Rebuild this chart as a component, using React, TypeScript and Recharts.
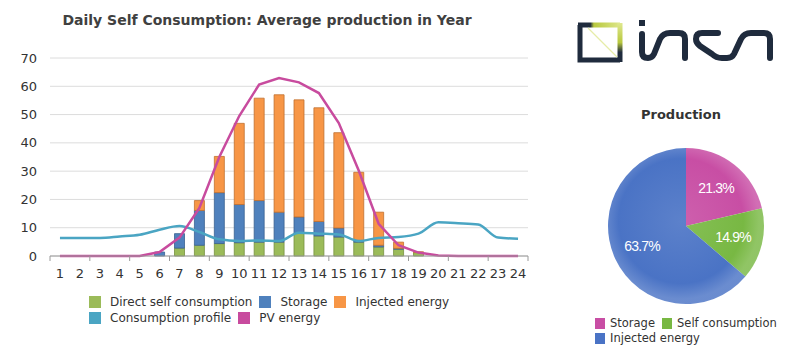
import { ComposedChart, Bar, Line, XAxis, YAxis, CartesianGrid, PieChart, Pie, Cell } from 'recharts';

const hours = [1, 2, 3, 4, 5, 6, 7, 8, 9, 10, 11, 12, 13, 14, 15, 16, 17, 18, 19, 20, 21, 22, 23, 24];
const directSelf = [0, 0, 0, 0, 0, 0, 2.8, 3.8, 4.4, 4.7, 4.9, 4.9, 8.1, 7.1, 6.7, 4.9, 3.2, 2.4, 1.2, 0, 0, 0, 0, 0];
const storage = [0, 0, 0, 0, 0, 1.4, 5.1, 12.3, 18.0, 13.5, 14.7, 10.6, 5.7, 5.1, 3.2, 0.6, 0.6, 0.3, 0, 0, 0, 0, 0, 0];
const injected = [0, 0, 0, 0, 0, 0, 0, 3.5, 12.8, 28.7, 36.2, 41.5, 41.4, 40.2, 33.7, 24.1, 11.7, 2.2, 0.3, 0, 0, 0, 0, 0];
const consumption = [6.4, 6.4, 6.4, 6.9, 7.5, 9.3, 10.6, 8.5, 5.9, 5.3, 5.5, 5.3, 8.2, 7.9, 7.6, 5.3, 6.4, 6.7, 7.9, 11.9, 11.6, 11.1, 6.5, 6.1];
const pvEnergy = [0, 0, 0, 0, 0, 1.4, 6.5, 17, 35, 49.5, 60.6, 62.9, 61.4, 57.6, 47, 30.2, 11.4, 3.8, 1.2, 0.2, 0, 0, 0, 0];
const yTicks = [0, 10, 20, 30, 40, 50, 60, 70];

const seriesNames = ['Direct self consumption', 'Storage', 'Injected energy', 'Consumption profile', 'PV energy'];
const seriesColors = ['#9bbb59', '#4f81bd', '#f79646', '#4aa5c3', '#c84b9e'];

const pieNames = ['Storage', 'Self consumption', 'Injected energy'];
const pieValues = [21.3, 14.9, 63.7];
const pieColors = ['#c84ea4', '#78b843', '#4a73c5'];

const FONT = '"DejaVu Sans", Verdana, sans-serif';

const rows = hours.map((h, i) => ({
  hour: h,
  direct: directSelf[i],
  storage: storage[i],
  injected: injected[i],
  consumption: consumption[i],
  pv: pvEnergy[i],
}));
// tick marks sit between the hours, like the original
const hourEdges = [0.5, ...hours.map((h) => h + 0.5)];

const pieData = pieNames.map((name, i) => ({ name, value: pieValues[i] }));

function LegendBox({
  names,
  colors,
  box,
  gap,
  style,
}: {
  names: string[];
  colors: string[];
  box: [number, number];
  gap: number;
  style: React.CSSProperties;
}) {
  return (
    <div
      style={{
        position: 'absolute',
        display: 'flex',
        flexWrap: 'wrap',
        fontFamily: FONT,
        color: '#333',
        ...style,
      }}
    >
      {names.map((n, i) => (
        <div key={n} style={{ display: 'flex', alignItems: 'center', marginRight: 7 }}>
          <span style={{ width: box[0], height: box[1], background: colors[i], marginRight: gap, display: 'inline-block' }} />
          <span>{n}</span>
        </div>
      ))}
    </div>
  );
}

const RAD = Math.PI / 180;
function pieLabel(props: any) {
  const { cx, cy, midAngle, outerRadius, value } = props;
  const r = outerRadius * 0.62;
  const x = cx + r * Math.cos(-midAngle * RAD);
  const y = cy + r * Math.sin(-midAngle * RAD);
  return (
    <text
      x={x}
      y={y}
      fill="#fff"
      textAnchor="middle"
      dominantBaseline="central"
      fontFamily='"Liberation Sans", Arial, sans-serif'
      fontSize={14}
      letterSpacing={-0.8}
    >
      {value.toFixed(1)}%
    </text>
  );
}

export default function App() {
  const tickStyle = { fontSize: 13, fill: '#333', fontFamily: FONT };
  return (
    <div style={{ position: 'absolute', left: 0, top: 0, width: 801, height: 357, background: '#fff', overflow: 'hidden' }}>
      <div
        style={{
          position: 'absolute',
          left: 0,
          width: 534,
          top: 12,
          textAlign: 'center',
          fontFamily: FONT,
          fontWeight: 'bold',
          fontSize: 14,
          color: '#404040',
        }}
      >
        Daily Self Consumption: Average production in Year
      </div>

      <div style={{ position: 'absolute', left: 0, top: 0 }}>
        <ComposedChart width={545} height={290} data={rows} margin={{ top: 58, right: 17, bottom: 4, left: 0 }}>
          <CartesianGrid vertical={false} stroke="#dcdcdc" xAxisId="cat" />
          <XAxis
            xAxisId="cat"
            dataKey="hour"
            axisLine={false}
            tickLine={false}
            interval={0}
            tick={tickStyle}
            tickSize={0}
            tickMargin={7}
            height={24}
          />
          <XAxis
            xAxisId="a"
            type="number"
            dataKey="hour"
            domain={[0.5, 24.5]}
            ticks={hourEdges}
            allowDataOverflow
            tick={() => <g />}
            tickSize={5}
            height={6}
            stroke="#9a9a9a"
          />
          <YAxis domain={[0, 70]} ticks={yTicks} axisLine={false} tickLine={false} width={50} tickMargin={7} tick={tickStyle} />
          <Bar xAxisId="cat" dataKey="direct" stackId="a" barSize={10} fill={seriesColors[0]} stroke="#76903f" strokeWidth={0.8} isAnimationActive={false} />
          <Bar xAxisId="cat" dataKey="storage" stackId="a" barSize={10} fill={seriesColors[1]} stroke="#3a6190" strokeWidth={0.8} isAnimationActive={false} />
          <Bar xAxisId="cat" dataKey="injected" stackId="a" barSize={10} fill={seriesColors[2]} stroke="#c0702f" strokeWidth={0.8} isAnimationActive={false} />
          <Line xAxisId="cat" type="monotone" dataKey="consumption" stroke={seriesColors[3]} strokeWidth={2.5} dot={false} isAnimationActive={false} />
          <Line xAxisId="cat" type="linear" dataKey="pv" stroke={seriesColors[4]} strokeWidth={2.5} dot={false} isAnimationActive={false} />
        </ComposedChart>
      </div>

      <LegendBox
        names={seriesNames}
        colors={seriesColors}
        box={[12, 12]}
        gap={9}
        style={{ left: 89, top: 294, width: 392, fontSize: 12, lineHeight: '16px' }}
      />

      <div
        style={{
          position: 'absolute',
          left: 590,
          width: 182,
          top: 107,
          textAlign: 'center',
          fontFamily: FONT,
          fontWeight: 'bold',
          fontSize: 13,
          color: '#333',
        }}
      >
        Production
      </div>

      <div style={{ position: 'absolute', left: 590, top: 130 }}>
        <PieChart width={182} height={182}>
          <defs>
            {pieColors.map((c, i) => (
              <radialGradient key={c} id={`pg${i}`} gradientUnits="userSpaceOnUse" cx={91} cy={91} r={78}>
                <stop offset="0%" stopColor={c} stopOpacity={0.9} />
                <stop offset="80%" stopColor={c} />
                <stop offset="100%" stopColor={c} stopOpacity={0.82} />
              </radialGradient>
            ))}
          </defs>
          <Pie
            data={pieData}
            dataKey="value"
            nameKey="name"
            cx={91}
            cy={91}
            outerRadius={78}
            startAngle={90}
            endAngle={-270}
            stroke="none"
            label={pieLabel}
            labelLine={false}
            isAnimationActive={false}
          >
            {pieData.map((d, i) => (
              <Cell key={d.name} fill={`url(#pg${i})`} />
            ))}
          </Pie>
        </PieChart>
      </div>

      <LegendBox
        names={pieNames}
        colors={pieColors}
        box={[10, 11]}
        gap={5}
        style={{ left: 595, top: 316, width: 195, fontSize: 11.5, lineHeight: '15px' }}
      />

      <svg width={801} height={357} style={{ position: 'absolute', left: 0, top: 0, pointerEvents: 'none' }}>
        <defs>
          <linearGradient id="logoTop" gradientUnits="userSpaceOnUse" x1={578} y1={25} x2={622} y2={25}>
            <stop offset="0%" stopColor="#1f2b3d" />
            <stop offset="28%" stopColor="#1f2b3d" />
            <stop offset="36%" stopColor="#b8c83e" />
            <stop offset="100%" stopColor="#e0e98f" />
          </linearGradient>
          <linearGradient id="logoRight" gradientUnits="userSpaceOnUse" x1={620} y1={23} x2={620} y2={62}>
            <stop offset="0%" stopColor="#dfe88f" />
            <stop offset="50%" stopColor="#b8c83e" />
            <stop offset="75%" stopColor="#1f2b3d" />
          </linearGradient>
        </defs>
        <path d="M 580 25 L 580 60 L 620 60" stroke="#1f2b3d" strokeWidth={5} fill="none" />
        <line x1={578} y1={25} x2={620} y2={25} stroke="url(#logoTop)" strokeWidth={5} />
        <line x1={620} y1={23} x2={620} y2={62} stroke="url(#logoRight)" strokeWidth={5} />
        <line x1={588} y1={28} x2={617} y2={57} stroke="#e6eca8" strokeWidth={1.2} />
        <rect x={639} y={20} width={6} height={6} fill="#1f2b3d" />
        <path
          d="M 642 34 L 642 52 Q 642 58 648 58 Q 652 58 654 54 L 660 39 Q 663 33 670 33 L 679 33 Q 685 33 685 39 L 685 58
             M 718 33 L 702 33 Q 696 33 696 39 Q 696 43 700 46 L 712 54 Q 716 58 722 58 L 727 58 Q 732 58 734 54 L 741 39 Q 744 33 751 33 L 764 33 Q 770 33 770 39 L 770 58"
          stroke="#1f2b3d"
          strokeWidth={6}
          fill="none"
          strokeLinecap="round"
          strokeLinejoin="round"
        />
      </svg>
    </div>
  );
}
